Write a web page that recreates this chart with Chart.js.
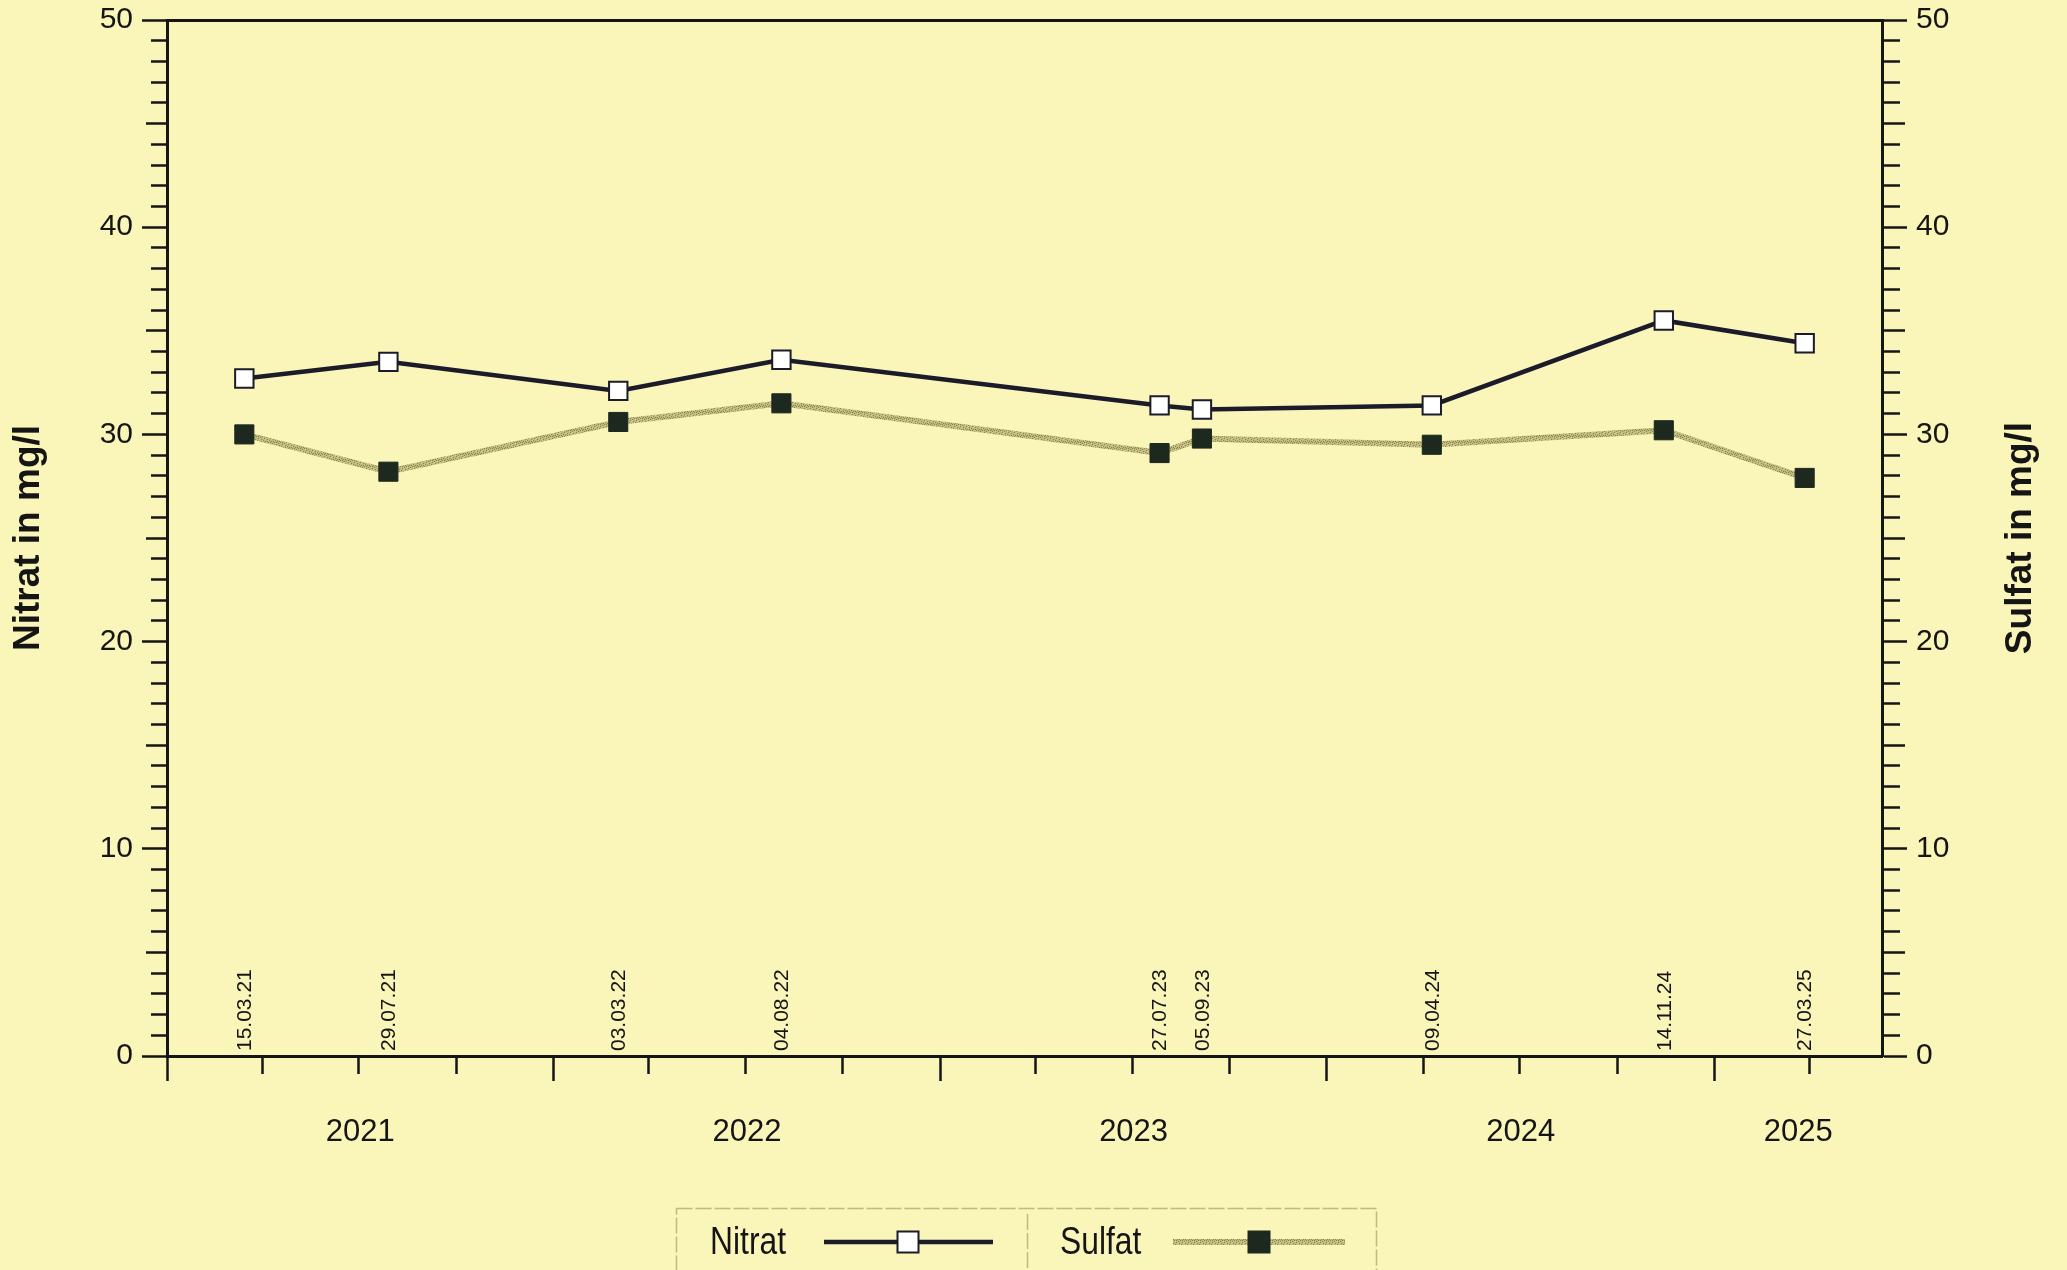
<!DOCTYPE html>
<html>
<head>
<meta charset="utf-8">
<script src="https://cdn.jsdelivr.net/npm/chart.js@4.4.1/dist/chart.umd.min.js"></script>
<style>
  html, body { margin: 0; padding: 0; background: #faf5b8; }
  #wrap { width: 2067px; height: 1270px; position: relative; }
</style>
</head>
<body>
<div id="wrap"><canvas id="c" width="2067" height="1270"></canvas></div>
<script>
// ---- data ----
const sampleDates = ['15.03.21', '29.07.21', '03.03.22', '04.08.22', '27.07.23', '05.09.23', '09.04.24', '14.11.24', '27.03.25'];
const nitrat = [32.7, 33.5, 32.1, 33.6, 31.4, 31.2, 31.4, 35.5, 34.4];
const sulfat = [30.0, 28.2, 30.6, 31.5, 29.1, 29.8, 29.5, 30.2, 27.9];
const yearLabels = ['2021', '2022', '2023', '2024', '2025'];
const yTickLabels = [0, 10, 20, 30, 40, 50];
const seriesNames = ['Nitrat', 'Sulfat'];
const axisTitles = ['Nitrat in mg/l', 'Sulfat in mg/l'];

// ---- helpers ----
const DAY = 86400000;
function toDays(s) { const p = s.split('.').map(Number); return Date.UTC(2000 + p[2], p[1] - 1, p[0]) / DAY; }
function ymd(y, m, d) { return Date.UTC(y, m, d) / DAY; }

const X_MIN = ymd(2021, 0, 1);
const X_MAX = ymd(2025, 5, 8);

const yearStarts = yearLabels.map(y => ymd(+y, 0, 1));
const quarterTicks = [];
yearLabels.forEach(y => { [0, 3, 6, 9].forEach(m => { const v = ymd(+y, m, 1); if (v < X_MAX) quarterTicks.push(v); }); });
const labelPos = {};
yearLabels.forEach((y, i) => {
  const a = yearStarts[i];
  const b = i + 1 < yearStarts.length ? yearStarts[i + 1] : X_MAX;
  labelPos[(a + b) / 2] = y;
});
const xTickValues = quarterTicks.concat(Object.keys(labelPos).map(Number)).sort((a, b) => a - b);

const FONT = "'Liberation Sans', Arial, Helvetica, sans-serif";
const INK = '#151515';
const NITRAT_COLOR = '#1b1b2a';
const SULFAT_MARK = '#1d291f';

// textured khaki pattern for the Sulfat line
function makePattern() {
  const p = document.createElement('canvas');
  p.width = 6; p.height = 6;
  const g = p.getContext('2d');
  g.fillStyle = '#c0b97c'; g.fillRect(0, 0, 6, 6);
  g.fillStyle = '#898354';
  [[0,0],[3,1],[1,3],[4,4],[2,5],[5,2],[0,4],[3,3]].forEach(([x, y]) => g.fillRect(x, y, 1, 1));
  g.fillStyle = '#d6d097';
  [[2,0],[5,5],[1,1],[4,2]].forEach(([x, y]) => g.fillRect(x, y, 1, 1));
  return g.createPattern(p, 'repeat');
}
const ctx0 = document.getElementById('c').getContext('2d');
const SULFAT_LINE = makePattern();

Chart.defaults.font.family = FONT;
Chart.defaults.color = INK;

const bgPlugin = {
  id: 'bg',
  beforeDraw(chart) {
    const c = chart.ctx; c.save(); c.fillStyle = '#faf5b8'; c.fillRect(0, 0, chart.width, chart.height); c.restore();
  }
};

const extrasPlugin = {
  id: 'extras',
  afterDraw(chart) {
    const c = chart.ctx;
    const ca = chart.chartArea;
    const xs = chart.scales.x;
    c.save();
    // rotated sample date labels
    c.fillStyle = INK;
    c.font = '21px ' + FONT;
    c.textAlign = 'left';
    c.textBaseline = 'middle';
    sampleDates.forEach(d => {
      const px = xs.getPixelForValue(toDays(d));
      c.save();
      c.translate(px + 1, ca.bottom - 5);
      c.rotate(-Math.PI / 2);
      c.fillText(d, 0, 0);
      c.restore();
    });
    // axis titles (both read bottom-to-top)
    c.font = 'bold 37px ' + FONT;
    c.textAlign = 'center';
    c.textBaseline = 'middle';
    const cy = (ca.top + ca.bottom) / 2;
    [[29, axisTitles[0]], [2021, axisTitles[1]]].forEach(([x, t]) => {
      c.save(); c.translate(x, cy); c.rotate(-Math.PI / 2); c.fillText(t, 0, 0); c.restore();
    });

    // legend
    const ds = chart.data.datasets;
    c.strokeStyle = 'rgba(170,160,95,0.7)';
    c.lineWidth = 1.5;
    c.setLineDash([16, 3]);
    c.strokeRect(676.5, 1208.5, 700, 120);
    c.beginPath(); c.moveTo(1027.5, 1214); c.lineTo(1027.5, 1270); c.stroke();
    c.setLineDash([]);

    c.font = "38px 'Liberation Sans Narrow', 'Arial Narrow', " + FONT;
    let w = c.measureText('Nitrat').width;
    const sx = w > 82 ? 76 / w : 1;
    c.textAlign = 'left';
    c.textBaseline = 'middle';
    const ly = 1242;
    const items = [
      { text: seriesNames[0], tx: 710, l0: 824, l1: 993, mx: 908, d: ds[0] },
      { text: seriesNames[1], tx: 1060, l0: 1173, l1: 1345, mx: 1259, d: ds[1] }
    ];
    items.forEach(it => {
      c.save(); c.translate(it.tx, ly + 2); c.scale(sx, 1); c.fillStyle = INK; c.fillText(it.text, 0, 0); c.restore();
      c.strokeStyle = it.d.borderColor; c.lineWidth = it.d.borderWidth;
      c.beginPath(); c.moveTo(it.l0, ly); c.lineTo(it.l1, ly); c.stroke();
      const s = 10.5;
      c.fillStyle = it.d.pointBackgroundColor; c.strokeStyle = it.d.pointBorderColor; c.lineWidth = 2;
      c.fillRect(it.mx - s, ly - s, 2 * s, 2 * s); c.strokeRect(it.mx - s, ly - s, 2 * s, 2 * s);
    });
    c.restore();
  }
};

const yTickDash = (side) => (ctx) => {
  const v = ctx.tick ? ctx.tick.value : 0;
  if (v % 10 === 0) return [];
  if (side === 'left') return v % 5 === 0 ? [0, 4, 100] : [0, 9, 100];
  return v % 5 === 0 ? [21, 100] : [16, 100];
};
const allYTicks = (axis) => { axis.ticks = []; for (let v = 0; v <= 50; v++) axis.ticks.push({ value: v }); };

new Chart(document.getElementById('c'), {
  type: 'line',
  data: {
    datasets: [
      {
        label: seriesNames[0],
        data: sampleDates.map((d, i) => ({ x: toDays(d), y: nitrat[i] })),
        yAxisID: 'y',
        borderColor: NITRAT_COLOR,
        borderWidth: 4.5,
        pointStyle: 'rect',
        pointRadius: 13,
        pointBackgroundColor: '#ffffff',
        pointBorderColor: NITRAT_COLOR,
        pointBorderWidth: 2,
        tension: 0,
        order: 1
      },
      {
        label: seriesNames[1],
        data: sampleDates.map((d, i) => ({ x: toDays(d), y: sulfat[i] })),
        yAxisID: 'y2',
        borderColor: SULFAT_LINE,
        borderWidth: 6,
        pointStyle: 'rect',
        pointRadius: 13.5,
        pointBackgroundColor: SULFAT_MARK,
        pointBorderColor: SULFAT_MARK,
        pointBorderWidth: 1,
        tension: 0,
        order: 2
      }
    ]
  },
  options: {
    responsive: false,
    animation: false,
    devicePixelRatio: 1,
    events: [],
    layout: { padding: { top: 20, left: 0, right: 0, bottom: 0 } },
    plugins: { legend: { display: false }, tooltip: { enabled: false } },
    scales: {
      x: {
        type: 'linear', position: 'bottom', min: X_MIN, max: X_MAX,
        afterBuildTicks: (axis) => { axis.ticks = xTickValues.map(v => ({ value: v })); },
        ticks: {
          autoSkip: false, maxRotation: 0, minRotation: 0, padding: 33,
          font: { size: 31 }, color: INK,
          callback: (v) => labelPos[v] || ''
        },
        grid: {
          drawOnChartArea: false, tickLength: 25, tickWidth: 2.5,
          tickColor: (ctx) => (ctx.tick && labelPos[ctx.tick.value]) ? 'rgba(0,0,0,0)' : INK,
          tickBorderDash: (ctx) => (ctx.tick && yearStarts.includes(ctx.tick.value)) ? [] : [16, 100]
        },
        border: { display: true, color: INK, width: 3 },
        afterFit: (s) => { s.height = 214; s.paddingLeft = 0; s.paddingRight = 0; }
      },
      xTop: {
        type: 'linear', position: 'top', min: X_MIN, max: X_MAX,
        ticks: { display: false }, grid: { display: false, drawTicks: false },
        border: { display: true, color: INK, width: 3 },
        afterFit: (s) => { s.height = 0; s.paddingLeft = 0; s.paddingRight = 0; }
      },
      y: {
        type: 'linear', position: 'left', min: 0, max: 50,
        afterBuildTicks: allYTicks,
        ticks: { autoSkip: false, padding: 9, font: { size: 30 }, color: INK,
          callback: (v) => yTickLabels.includes(v) ? String(v) : '' },
        grid: { drawOnChartArea: false, tickLength: 25, tickWidth: 2.5, tickColor: INK, tickBorderDash: yTickDash('left') },
        border: { display: true, color: INK, width: 3 },
        afterFit: (s) => { s.width = 167; s.paddingTop = 0; s.paddingBottom = 0; }
      },
      y2: {
        type: 'linear', position: 'right', min: 0, max: 50,
        afterBuildTicks: allYTicks,
        ticks: { autoSkip: false, padding: 9, font: { size: 30 }, color: INK,
          callback: (v) => yTickLabels.includes(v) ? String(v) : '' },
        grid: { drawOnChartArea: false, tickLength: 25, tickWidth: 2.5, tickColor: INK, tickBorderDash: yTickDash('right') },
        border: { display: true, color: INK, width: 3 },
        afterFit: (s) => { s.width = 185; s.paddingTop = 0; s.paddingBottom = 0; }
      }
    }
  },
  plugins: [bgPlugin, extrasPlugin]
});
</script>
</body>
</html>
